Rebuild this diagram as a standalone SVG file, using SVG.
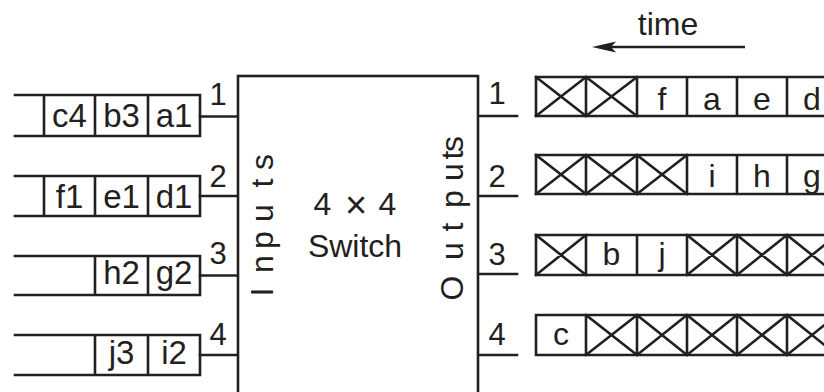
<svg xmlns="http://www.w3.org/2000/svg" width="824" height="392" viewBox="0 0 824 392">
<style>
.ln{stroke:#231f20;stroke-width:2.6;fill:none;stroke-linecap:square}
.bx{stroke:#231f20;stroke-width:2.6;fill:#fff}
.t{font-family:"Liberation Sans",Arial,sans-serif;fill:#231f20;text-anchor:middle}
.cell{font-size:33px}
.oc{font-size:32px}
.num{font-size:31px}
.big{font-size:32px}
</style>
<defs>
<marker id="ah" viewBox="0 0 24 12" refX="10" refY="6" markerWidth="24" markerHeight="12" markerUnits="userSpaceOnUse" orient="auto">
<path d="M24,6 L0,0.5 L5,6 L0,11.5 Z" fill="#231f20"/>
</marker>
</defs>
<rect width="824" height="392" fill="#fff"/>

<g id="connectors">
<line class="ln" x1="200" y1="116.5" x2="238" y2="116.5"/>
<line class="ln" x1="200" y1="196" x2="238" y2="196"/>
<line class="ln" x1="200" y1="275.5" x2="238" y2="275.5"/>
<line class="ln" x1="200" y1="355" x2="238" y2="355"/>
<line class="ln" x1="478" y1="116" x2="517" y2="116"/>
<line class="ln" x1="478" y1="196" x2="517" y2="196"/>
<line class="ln" x1="478" y1="274" x2="517" y2="274"/>
<line class="ln" x1="478" y1="355" x2="517" y2="355"/>
<line x1="745" y1="47" x2="606" y2="47" stroke="#231f20" stroke-width="2.6" marker-end="url(#ah)"/>
</g>

<g id="time-label">
<text class="t big" x="668" y="35">time</text>
</g>

<g id="switch">
<rect class="bx" x="238" y="76" width="240" height="340"/>
<text class="t big" y="215"><tspan x="322.5">4</tspan><tspan x="356" y="218" font-size="38" font-weight="300">×</tspan><tspan x="387.5" y="215">4</tspan></text>
<text class="t big" x="355" y="257">Switch</text>
<text class="t big" transform="translate(273,0) rotate(-90)" x="-292 -264 -240 -213 -183 -162" y="0">Inputs</text>
<text class="t big" transform="translate(463,0) rotate(-90)" x="-288 -251 -227 -199 -172 -155 -144" y="0">Outputs</text>
</g>

<g id="input-labels">
<text class="t num" x="218" y="105">1</text>
<text class="t num" x="218" y="187">2</text>
<text class="t num" x="218" y="264">3</text>
<text class="t num" x="218" y="345">4</text>
</g>

<g id="output-labels">
<text class="t num" x="497" y="104">1</text>
<text class="t num" x="497" y="187">2</text>
<text class="t num" x="497" y="265">3</text>
<text class="t num" x="497" y="345">4</text>
</g>

<g id="input-queue-1">
<path class="ln" d="M15,95 H200 V136 H15 M44,95 V136 M95,95 V136 M148,95 V136"/>
<text class="t cell" x="69.5" y="127">c4</text>
<text class="t cell" x="121.5" y="127">b3</text>
<text class="t cell" x="174" y="127">a1</text>
</g>
<g id="input-queue-2">
<path class="ln" d="M15,176 H200 V216 H15 M44,176 V216 M95,176 V216 M148,176 V216"/>
<text class="t cell" x="69.5" y="208">f1</text>
<text class="t cell" x="121.5" y="208">e1</text>
<text class="t cell" x="174" y="208">d1</text>
</g>
<g id="input-queue-3">
<path class="ln" d="M15,256 H200 V295 H15 M95,256 V295 M148,256 V295"/>
<text class="t cell" x="121.5" y="284">h2</text>
<text class="t cell" x="174" y="284">g2</text>
</g>
<g id="input-queue-4">
<path class="ln" d="M15,335 H200 V375 H15 M95,335 V375 M148,335 V375"/>
<text class="t cell" x="121.5" y="364">j3</text>
<text class="t cell" x="174" y="364">i2</text>
</g>

<g id="output-queue-1">
<path class="ln" d="M536,77 H840 M536,116 H840 M536,77 V116 M586,77 V116 M637,77 V116 M687,77 V116 M737,77 V116 M787,77 V116 M837,77 V116"/>
<path class="ln" d="M536,77 L586,116 M536,116 L586,77 M586,77 L637,116 M586,116 L637,77"/>
<text class="t oc" x="662" y="110">f</text>
<text class="t oc" x="712" y="110">a</text>
<text class="t oc" x="762" y="110">e</text>
<text class="t oc" x="812" y="110">d</text>
</g>
<g id="output-queue-2">
<path class="ln" d="M536,155 H840 M536,194 H840 M536,155 V194 M586,155 V194 M637,155 V194 M687,155 V194 M737,155 V194 M787,155 V194 M837,155 V194"/>
<path class="ln" d="M536,155 L586,194 M536,194 L586,155 M586,155 L637,194 M586,194 L637,155 M637,155 L687,194 M637,194 L687,155"/>
<text class="t oc" x="712" y="187">i</text>
<text class="t oc" x="762" y="187">h</text>
<text class="t oc" x="812" y="187">g</text>
</g>
<g id="output-queue-3">
<path class="ln" d="M536,235 H840 M536,275 H840 M536,235 V275 M586,235 V275 M637,235 V275 M687,235 V275 M737,235 V275 M787,235 V275 M837,235 V275"/>
<path class="ln" d="M536,235 L586,275 M536,275 L586,235 M687,235 L737,275 M687,275 L737,235 M737,235 L787,275 M737,275 L787,235 M787,235 L837,275 M787,275 L837,235"/>
<text class="t oc" x="611.5" y="265">b</text>
<text class="t oc" x="662" y="265">j</text>
</g>
<g id="output-queue-4">
<path class="ln" d="M536,315 H840 M536,355 H840 M536,315 V355 M586,315 V355 M637,315 V355 M687,315 V355 M737,315 V355 M787,315 V355 M837,315 V355"/>
<path class="ln" d="M586,315 L637,355 M586,355 L637,315 M637,315 L687,355 M637,355 L687,315 M687,315 L737,355 M687,355 L737,315 M737,315 L787,355 M737,355 L787,315 M787,315 L837,355 M787,355 L837,315"/>
<text class="t oc" x="561" y="345">c</text>
</g>
</svg>
